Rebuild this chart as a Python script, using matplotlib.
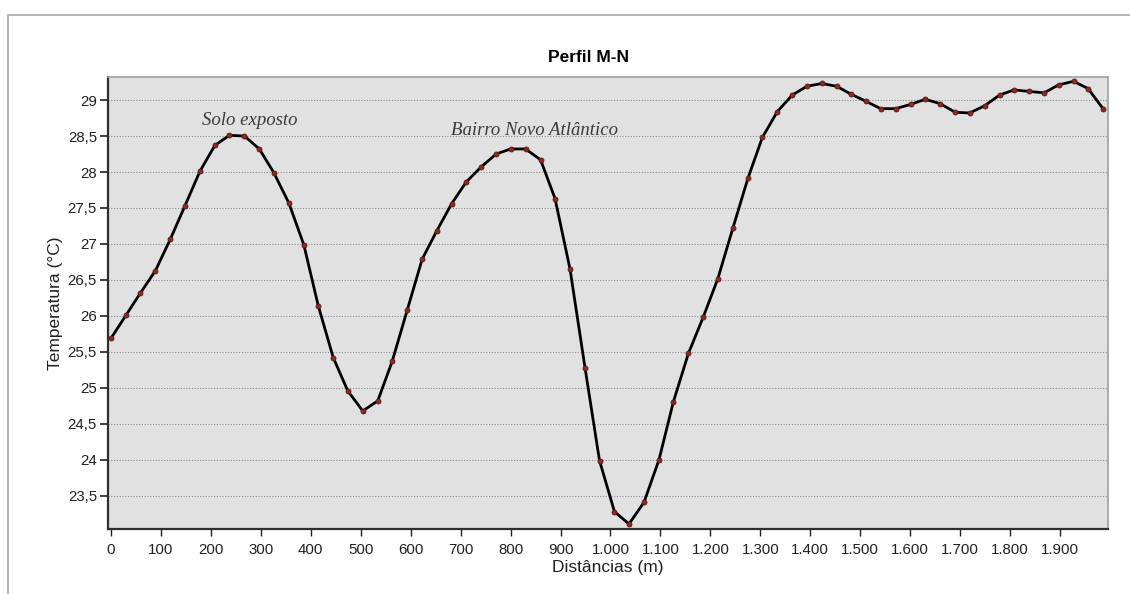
import matplotlib.pyplot as plt
from matplotlib.patches import Rectangle
from matplotlib.ticker import FuncFormatter

distancias = [0, 30, 59, 89, 119, 148, 178, 208, 237, 267, 297, 326, 356, 386,
              415, 445, 474, 504, 534, 563, 593, 623, 652, 682, 711, 741, 771,
              800, 830, 860, 889, 919, 949, 978, 1008, 1037, 1067, 1097, 1126,
              1156, 1186, 1215, 1245, 1275, 1304, 1334, 1364, 1393, 1423, 1453,
              1482, 1512, 1541, 1571, 1601, 1630, 1660, 1690, 1719, 1749, 1779,
              1808, 1838, 1868, 1897, 1927, 1956, 1986]
temperaturas = [25.69, 26.01, 26.32, 26.63, 27.07, 27.53, 28.01, 28.37, 28.51,
                28.50, 28.32, 27.99, 27.57, 26.99, 26.14, 25.42, 24.96, 24.68,
                24.82, 25.37, 26.08, 26.79, 27.18, 27.56, 27.86, 28.07, 28.25,
                28.32, 28.32, 28.17, 27.63, 26.65, 25.28, 23.99, 23.28, 23.11,
                23.41, 24.00, 24.81, 25.48, 25.99, 26.52, 27.22, 27.91, 28.48,
                28.84, 29.07, 29.19, 29.23, 29.19, 29.08, 28.98, 28.88, 28.88,
                28.94, 29.01, 28.95, 28.83, 28.82, 28.92, 29.07, 29.14, 29.12,
                29.10, 29.21, 29.26, 29.16, 28.88]

x_ticks = list(range(0, 2000, 100))
y_ticks = [23.5, 24, 24.5, 25, 25.5, 26, 26.5, 27, 27.5, 28, 28.5, 29]

rotulos = ["Solo exposto", "Bairro Novo Atlântico"]
rotulos_pos = [(278, 28.71), (847, 28.58)]

plt.rcParams['font.family'] = ['Liberation Sans', 'DejaVu Sans']

W, H = 1130, 594
fig = plt.figure(figsize=(W / 100, H / 100), dpi=100)
fig.patch.set_facecolor('white')

# moldura externa
fig.patches.append(Rectangle((8 / W, -0.1), 1.2, 1 - 15 / H + 0.1,
                             transform=fig.transFigure, fill=False,
                             edgecolor='#a8a8a8', linewidth=1.2))

ax = fig.add_axes([108 / W, 1 - 529 / H, 1000 / W, 452 / H])
ax.set_facecolor('#e1e1e1')

ax.plot(distancias, temperaturas, color='black', linewidth=2.0, zorder=3)
ax.plot(distancias, temperaturas, linestyle='none', marker='o', markersize=3.6,
        markerfacecolor='#8a2a22', markeredgecolor='#5a1a14',
        markeredgewidth=0.6, zorder=4)

ax.set_xlim(-6, 1996)
ax.set_ylim(23.04, 29.32)
ax.set_xticks(x_ticks)
ax.set_yticks(y_ticks)
ax.xaxis.set_major_formatter(FuncFormatter(lambda v, p: f"{int(v):,}".replace(',', '.')))
ax.yaxis.set_major_formatter(FuncFormatter(lambda v, p: f"{v:g}".replace('.', ',')))

ax.yaxis.grid(True, linestyle=(0, (1, 1.5)), color='#8c8c8c', linewidth=0.8)
ax.set_axisbelow(True)

for s in ['top', 'right']:
    ax.spines[s].set_color('#a0a0a0')
    ax.spines[s].set_linewidth(1.2)
for s in ['left', 'bottom']:
    ax.spines[s].set_color('#303030')
    ax.spines[s].set_linewidth(1.6)

ax.tick_params(axis='y', direction='out', length=6, width=1.2, pad=2,
               labelsize=10.8, colors='#202020')
ax.tick_params(axis='x', direction='out', length=5, width=1.0, pad=5,
               labelsize=10.8, colors='#202020')

ax.set_xlabel("Distâncias (m)", fontsize=12.5, color='#202020', labelpad=2)
ax.set_ylabel("Temperatura (°C)", fontsize=12.5, color='#202020', labelpad=3)

fig.text(588 / W, 1 - 58 / H, "Perfil M-N", ha='center', va='center',
         fontsize=12.5, fontweight='bold', color='black')

for txt, (xx, yy) in zip(rotulos, rotulos_pos):
    ax.text(xx, yy, txt, ha='center', va='center', fontsize=13.5,
            fontstyle='italic', family='Liberation Serif', color='#3a3a3a',
            zorder=5)

fig.savefig('out.png', dpi=100)
